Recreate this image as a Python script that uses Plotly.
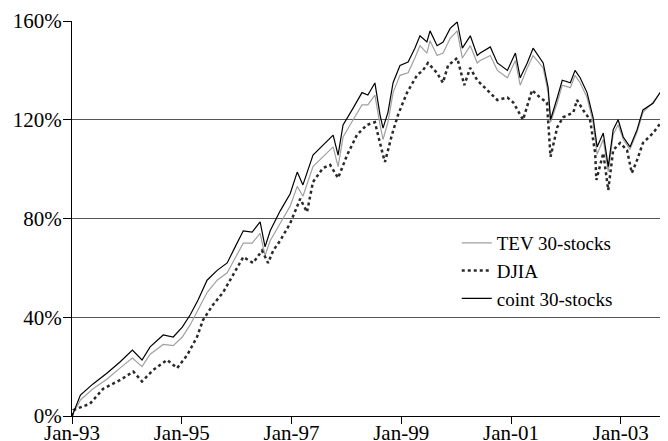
import plotly.graph_objects as go

# ---- data (cumulative return, %) ----
coint_dates = [
    "1993-01-01", "1993-02-26", "1993-05-21", "1993-08-23", "1993-11-18",
    "1994-02-07", "1994-04-12", "1994-06-05", "1994-08-31", "1994-11-06",
    "1995-01-05", "1995-02-27", "1995-04-20", "1995-06-19", "1995-08-25",
    "1995-10-31", "1995-12-23", "1996-02-15", "1996-04-14", "1996-06-06",
    "1996-07-09", "1996-08-12", "1996-10-17", "1996-12-23", "1997-02-08",
    "1997-03-18", "1997-05-24", "1997-07-29", "1997-10-05", "1997-11-07",
    "1997-12-10", "1998-02-15", "1998-04-15", "1998-05-24", "1998-07-10",
    "1998-08-13", "1998-09-02", "1998-10-05", "1998-11-08", "1998-12-24",
    "1999-02-16", "1999-04-02", "1999-05-06", "1999-06-21", "1999-07-12",
    "1999-08-28", "1999-10-07", "1999-11-23", "2000-01-09", "2000-02-12",
    "2000-04-05", "2000-05-21", "2000-06-10", "2000-08-16", "2000-10-02",
    "2000-12-08", "2001-01-30", "2001-03-03", "2001-04-19", "2001-05-28",
    "2001-08-03", "2001-09-05", "2001-09-21", "2001-11-05", "2001-12-08",
    "2002-01-31", "2002-03-03", "2002-04-06", "2002-05-22", "2002-07-01",
    "2002-07-28", "2002-09-07", "2002-10-10", "2002-11-12", "2002-12-15",
    "2003-01-18", "2003-03-04", "2003-04-20", "2003-05-29", "2003-08-04",
    "2003-09-20", "2003-11-12", "2003-12-31", "2004-01-15",
]
coint_values = [
    0, 8.5, 13, 17.4, 22,
    26.7, 22.7, 28, 32.8, 32,
    36, 41, 47, 55, 59,
    62, 68.5, 75, 74.5, 78.6,
    68.5, 75, 83, 90, 98.8,
    93.6, 105.7, 109.8, 113.8, 105.7,
    117.9, 124.7, 131, 130, 134.9,
    122, 116.6, 123, 135, 142,
    143.4, 149, 154, 151.5, 156,
    150, 151.5, 157, 159.6, 149,
    154, 146, 147, 149.5, 143,
    140, 147, 137, 143, 149,
    143, 133, 120, 129, 136,
    135, 140, 137, 131, 121,
    109, 114.6, 101, 116, 120,
    113, 109, 116, 124, 126.7,
    131, 133, 134, 135,
]
tev_values = [
    0, 6.5, 11, 15, 19.5,
    23.5, 20, 25, 29, 28.5,
    32, 37, 43, 50, 55,
    58, 64, 70, 70, 74,
    65, 71, 78, 85, 93,
    89, 101, 105, 109, 101,
    113, 120, 126, 126, 130,
    118, 112, 119, 131, 138,
    139, 145, 150, 147, 152,
    146, 147, 153, 156, 145,
    150, 143, 144, 146, 140,
    137, 144, 134, 141, 146,
    141, 131, 119, 127, 134,
    133, 138, 135, 129, 119,
    106, 112, 99, 114, 118,
    112, 108, 115, 123, 127,
    131, 133, 134, 135,
]

djia_dates = [
    "1993-01-01", "1993-01-10", "1993-05-01", "1993-07-27", "1993-11-18",
    "1994-02-13", "1994-04-12", "1994-06-25", "1994-09-26", "1994-12-02",
    "1995-02-07", "1995-04-13", "1995-05-23", "1995-07-28", "1995-10-03",
    "1995-12-09", "1996-02-15", "1996-04-20", "1996-06-19", "1996-07-29",
    "1996-09-01", "1996-10-17", "1996-12-23", "1997-02-28", "1997-04-14",
    "1997-05-24", "1997-07-29", "1997-09-15", "1997-11-07", "1998-01-06",
    "1998-03-12", "1998-05-17", "1998-07-10", "1998-09-02", "1998-09-15",
    "1998-10-31", "1998-12-11", "1999-02-09", "1999-04-16", "1999-05-25",
    "1999-06-28", "1999-08-27", "1999-10-06", "1999-11-09", "2000-01-09",
    "2000-02-25", "2000-04-04", "2000-05-21", "2000-07-26", "2000-10-02",
    "2000-12-08", "2001-01-16", "2001-03-22", "2001-05-21", "2001-07-13",
    "2001-08-28", "2001-09-21", "2001-11-05", "2001-12-14", "2002-02-20",
    "2002-03-16", "2002-04-25", "2002-06-11", "2002-07-15", "2002-07-23",
    "2002-09-07", "2002-10-10", "2002-11-12", "2002-12-28", "2003-02-12",
    "2003-03-16", "2003-04-20", "2003-05-29", "2003-08-04", "2003-10-10",
    "2003-11-12", "2003-12-31", "2004-01-15",
]
djia_values = [
    0, 2.4, 5, 11, 14.6,
    18, 14, 18.6, 22.7, 19.4,
    24.7, 32, 38.9, 45, 50,
    57, 64.4, 62, 67, 62,
    67, 71, 78, 88, 82.6,
    94.8, 100.4, 101.7, 96.4, 105.7,
    113.8, 117.9, 119, 105.7, 102.9,
    113.8, 122, 131, 138, 140,
    143, 139, 135, 142, 145,
    134, 141, 136, 132, 128,
    129, 127, 120, 132, 129,
    127, 105, 117, 121, 123,
    128, 124, 120, 106.5, 95.6,
    106.5, 91.5, 107.7, 110.6, 107.7,
    98.4, 103.7, 110.6, 114.6, 120,
    122.7, 124, 125,
]

y_ticks = [0, 40, 80, 120, 160]
y_tick_labels = ["0%", "40%", "80%", "120%", "160%"]
x_ticks = ["1993-01-01", "1995-01-01", "1997-01-01", "1999-01-01", "2001-01-01", "2003-01-01"]
x_tick_labels = ["Jan-93", "Jan-95", "Jan-97", "Jan-99", "Jan-01", "Jan-03"]

FONT = "Liberation Serif"

fig = go.Figure()
fig.add_trace(go.Scatter(x=coint_dates, y=tev_values, mode="lines", name="TEV 30-stocks",
                         line=dict(color="#a0a0a0", width=1.2)))
fig.add_trace(go.Scatter(x=djia_dates, y=djia_values, mode="lines", name="DJIA",
                         line=dict(color="#2a2a2a", width=2.5, dash="dot")))
fig.add_trace(go.Scatter(x=coint_dates, y=coint_values, mode="lines", name="coint 30-stocks",
                         line=dict(color="#000000", width=1.2)))

fig.update_layout(
    width=668, height=441,
    margin=dict(l=64, r=0, t=13, b=33, autoexpand=False),
    paper_bgcolor="white", plot_bgcolor="white",
    font=dict(family=FONT, color="black", size=21),
    showlegend=True,
    legend=dict(x=0.637, y=0.486, xanchor="left", yanchor="top",
                bgcolor="rgba(0,0,0,0)", font=dict(family=FONT, size=19, color="black"),
                tracegroupgap=0),
    xaxis=dict(range=["1993-01-01", "2004-01-04"], tickvals=x_ticks, ticktext=x_tick_labels,
               ticks="outside", ticklen=7, tickcolor="black", showline=True,
               linecolor="black", linewidth=1, showgrid=False, zeroline=False,
               tickfont=dict(family=FONT, size=21), automargin=False, ticklabelstandoff=-9),
    yaxis=dict(range=[0, 160], tickvals=y_ticks, ticktext=y_tick_labels,
               ticks="outside", ticklen=8, tickcolor="black", showline=True,
               linecolor="black", linewidth=1, showgrid=True, gridcolor="#555555",
               gridwidth=1, zeroline=False, tickfont=dict(family=FONT, size=21), automargin=False,
               ticklabelstandoff=-3),
)

fig.write_html("out.html")
